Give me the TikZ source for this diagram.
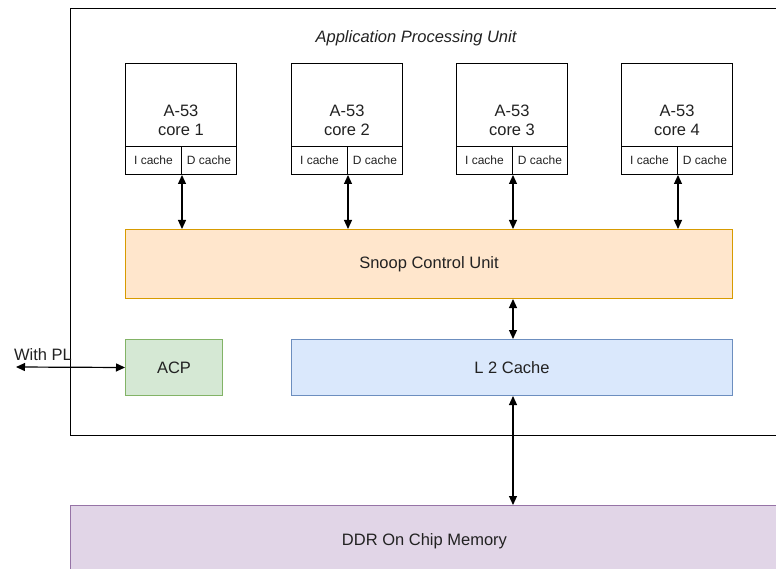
\documentclass[tikz,border=0pt]{standalone}
\usepackage{fontspec}
\setmainfont{Liberation Sans}
\usetikzlibrary{arrows.meta}
\definecolor{scuFill}{HTML}{FFE6CC}
\definecolor{scuDraw}{HTML}{D79B00}
\definecolor{acpFill}{HTML}{D5E8D4}
\definecolor{acpDraw}{HTML}{82B366}
\definecolor{ltwoFill}{HTML}{DAE8FC}
\definecolor{ltwoDraw}{HTML}{6C8EBF}
\definecolor{ddrFill}{HTML}{E1D5E7}
\definecolor{ddrDraw}{HTML}{9673A6}
\definecolor{txt}{HTML}{222222}
\tikzset{
  box/.style={draw, line width=1pt, inner sep=0pt, anchor=north west, text=txt,
    font=\fontsize{16.5}{19.5}\selectfont},
  cachebox/.style={draw, line width=1pt, inner sep=0pt, anchor=north west,
    minimum height=28pt, text=txt, font=\fontsize{12}{13}\selectfont},
  arr/.style={{Triangle[width=8pt,length=9pt]}-{Triangle[width=8pt,length=9pt]}, line width=1.2pt},
  lbl/.style={inner sep=0pt, text=txt, font=\fontsize{16.5}{19.5}\selectfont},
}
\begin{document}
\begin{tikzpicture}[x=1pt,y=-1pt]
\useasboundingbox (0,0) rectangle (776,569);
\clip (0,0) rectangle (776,569);
% outer APU box
\node[draw, line width=1pt, inner sep=0pt, anchor=north west, minimum width=715pt, minimum height=427pt] (apu) at (70,8) {};
\node[lbl, font=\fontsize{16.5}{19.5}\selectfont\itshape] (title) at (416,38) {Application Processing Unit};
% cores
\foreach \i/\x/\wa/\wb in {1/125/56/55, 2/291/56/55, 3/456/56/55, 4/621/56/55}{
  \node[box, minimum width=111pt, minimum height=111pt] (core\i) at (\x,63) {};
  \node[lbl, align=center] (corelbl\i) at ([yshift=-1.5pt]core\i.center) {A-53\\core \i};
  \node[cachebox, minimum width=\wa pt] (ic\i) at (\x,146) {I cache};
  \node[cachebox, minimum width=\wb pt] (dc\i) at (\x+\wa,146) {D cache};
}
% snoop control unit
\node[box, fill=scuFill, draw=scuDraw, minimum width=607pt, minimum height=69pt] (scu) at (125,229) {Snoop Control Unit};
\foreach \i in {1,2,3,4}{
  \draw[arr] (ic\i.south east) -- (ic\i.south east |- scu.north);
}
% ACP and L2
\node[box, fill=acpFill, draw=acpDraw, minimum width=97pt, minimum height=56pt] (acp) at (125,339) {ACP};
\node[box, fill=ltwoFill, draw=ltwoDraw, minimum width=441pt, minimum height=56pt] (ltwo) at (291,339) {L 2 Cache};
\draw[arr] (scu.south -| ic3.south east) -- (ltwo.north -| ic3.south east);
% With PL
\coordinate (pl) at (16,367);
\node[lbl] (pltext) at (43,355) {With PL};
\draw[arr] (pl) -- (acp.west);
% DDR
\node[box, fill=ddrFill, draw=ddrDraw, minimum width=708pt, minimum height=72pt] (ddr) at (70,505) {DDR On Chip Memory};
\draw[arr] (ltwo.south -| ic3.south east) -- (ddr.north -| ic3.south east);
\end{tikzpicture}
\end{document}
